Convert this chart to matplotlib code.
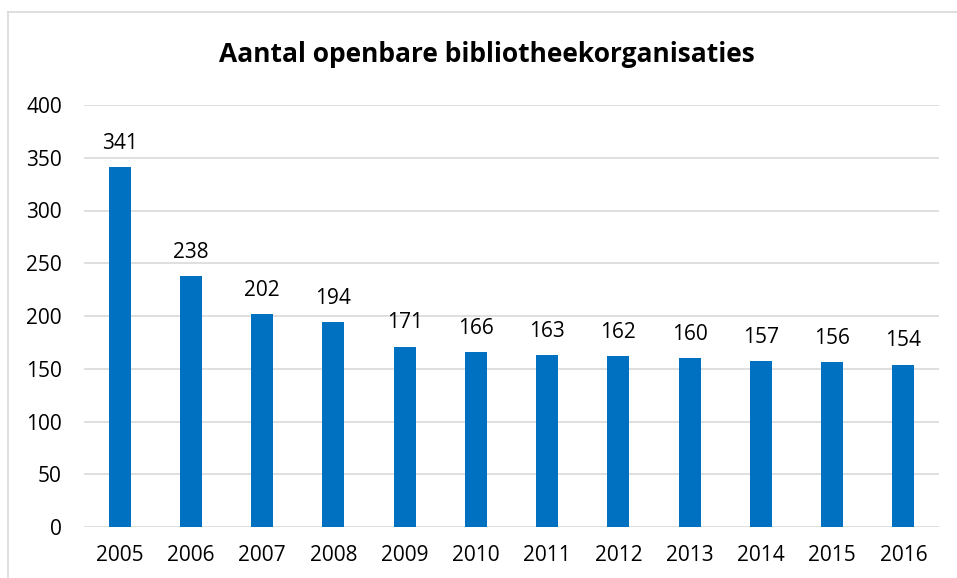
import matplotlib
matplotlib.use("Agg")
import matplotlib.pyplot as plt
from matplotlib.lines import Line2D

years = ["2005", "2006", "2007", "2008", "2009", "2010",
         "2011", "2012", "2013", "2014", "2015", "2016"]
counts = [341, 238, 202, 194, 171, 166, 163, 162, 160, 157, 156, 154]
yticks = [0, 50, 100, 150, 200, 250, 300, 350, 400]
title = "Aantal openbare bibliotheekorganisaties"

plt.rcParams['font.family'] = ['Open Sans', 'DejaVu Sans']

fig = plt.figure(figsize=(9.57, 5.78), dpi=100)
ax = fig.add_axes([84/957, 1-527/578, (939-84)/957, (527-105)/578])

x = range(len(years))
ax.bar(x, counts, width=0.31, color='#0070C0', zorder=3)
for i, v in zip(x, counts):
    ax.annotate(str(v), (i, v), xytext=(0, 9.5), textcoords='offset points',
                ha='center', va='bottom', fontsize=15, color='#000000')

ax.set_xlim(-0.5, len(years) - 0.5)
ax.set_ylim(0, 400)
ax.set_yticks(yticks)
ax.set_xticks(list(x))
ax.set_xticklabels(years)
ax.grid(axis='y', color='#D9D9D9', linewidth=1.2, zorder=0)
for s in ax.spines.values():
    s.set_visible(False)
ax.tick_params(axis='both', length=0, labelsize=15, colors='#000000')
ax.tick_params(axis='y', pad=16)
ax.tick_params(axis='x', pad=13)

fig.text(487/957, 1-55/578, title, ha='center', va='center',
         fontsize=19, fontweight='bold')

# chart frame (top and left edge visible)
fig.add_artist(Line2D([8/957, 1], [1-12/578, 1-12/578], transform=fig.transFigure,
                      color='#D9D9D9', linewidth=1.2))
fig.add_artist(Line2D([8/957, 8/957], [0, 1-12/578], transform=fig.transFigure,
                      color='#D9D9D9', linewidth=1.2))

fig.savefig("out.png", dpi=100)
